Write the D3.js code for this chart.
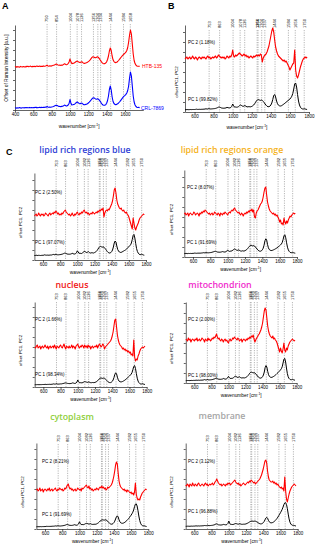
<!DOCTYPE html>
<html>
<head>
<meta charset="utf-8">
<script src="https://cdn.jsdelivr.net/npm/d3@7"></script>
<style>
  body { margin: 0; background: #fff; }
  svg { display: block; font-family: "Liberation Sans", Arial, sans-serif; }
</style>
</head>
<body>
<div id="chart"></div>
<script>
// wavenumber grids (cm-1)
var wnA = d3.range(400, 1761, 10);
var wnPC = d3.range(500, 1781, 10);

var ticksA = [400, 600, 800, 1000, 1200, 1400, 1600];
var ticksPC = [600, 800, 1000, 1200, 1400, 1600, 1800];

var peaksA = [750, 854, 1004, 1078, 1126, 1256, 1304, 1334, 1444, 1584, 1658];
var peaksB = [753, 863, 1004, 1078, 1126, 1256, 1266, 1304, 1337, 1444, 1584, 1656, 1750];
var peaksC = [753, 863, 1004, 1082, 1126, 1256, 1266, 1304, 1337, 1444, 1582, 1655, 1750];

var cellLines = ["HTB-135", "CRL-7869"];
var regions = ["lipid rich regions blue", "lipid rich regions orange", "nucleus", "mitochondrion", "cytoplasm", "membrane"];
var pc1Share = ["99.82%", "97.07%", "91.69%", "98.34%", "98.00%", "91.69%", "96.88%"];
var pc2Share = ["1.18%", "2.50%", "8.07%", "1.66%", "2.00%", "8.21%", "3.12%"];

// panel A mean spectra
var htb135 = [
  0,0.5,-0.3,0.4,0.1,-0.2,0.6,0.2,0,0.5,
  0.3,-0.1,0.6,0.4,0.8,0.2,0.5,0.9,0.3,0.6,
  0.4,0.8,0.3,0.7,1.0,0.5,0.6,0.9,0.4,0.8,
  0.6,1.1,0.7,0.9,1.2,1.9,1.0,0.8,1.2,0.9,
  1.1,1.4,1.8,2.1,2.6,2.9,2.4,2.0,1.7,1.9,
  1.6,2.0,1.8,2.6,3.2,2.7,2.2,2.6,3.4,5.0,
  8.0,5.2,3.4,3.6,3.8,4.2,5.0,5.6,5.9,5.2,
  4.8,4.4,5.0,5.3,4.4,3.8,3.6,4.0,4.2,4.8,
  5.4,6.2,7.2,8.4,9.6,10.2,10.0,9.4,9.3,9.8,
  10.2,9.6,8.4,7.0,5.6,4.4,3.6,3.3,3.4,4.0,
  5.2,7.5,11.0,16.0,19.0,16.5,11.0,7.2,5.4,4.6,
  4.4,4.8,5.5,6.5,7.6,8.8,10.0,11.2,12.2,13.0,
  13.8,14.8,16.5,19.5,25.0,32.0,37.0,33.0,23.0,13.0,
  6.5,3.4,1.8,1.0,0.7,0.8,0.6
];
var crl7869 = [
  0,0.3,-0.2,0.2,0,0.4,0.1,-0.1,0.2,0.3,
  0.1,0.4,0.2,0.5,0.3,0.2,0.6,0.3,0.4,0.2,
  0.5,0.3,0.8,0.4,0.6,0.3,0.5,0.7,0.4,0.6,
  0.5,0.8,0.6,0.9,0.7,1.6,0.8,0.7,0.9,0.8,
  1.0,1.2,1.5,1.9,2.4,2.8,2.5,2.0,1.6,1.5,
  1.4,1.6,1.8,2.3,2.9,2.5,1.9,2.2,3.0,4.5,
  8.5,5.0,3.0,3.2,3.5,3.8,4.6,5.6,6.0,5.2,
  4.6,4.2,4.8,5.0,4.0,3.4,3.2,3.6,3.8,4.2,
  5.0,5.8,6.8,8.0,9.2,10.0,10.3,9.6,9.0,8.8,
  9.2,8.8,7.8,6.6,5.2,3.9,3.0,2.7,2.8,3.4,
  4.8,7.5,12.0,18.5,22.0,18.0,11.0,6.5,4.5,3.6,
  3.4,3.6,4.2,5.0,6.0,7.2,8.4,9.6,10.8,11.8,
  12.6,13.6,15.0,17.5,22.0,30.0,36.0,32.0,22.0,12.0,
  6.0,3.0,1.5,0.8,0.5,0.6,0.4
];

// PC1 loadings: B, then C regions in order
var pc1B = [
  0.3,0.3,0.4,0.4,0.3,0.4,0.5,0.4,0.5,0.5,
  0.5,0.6,0.8,0.6,0.6,0.7,0.6,0.7,0.7,0.8,
  0.8,1.0,1.2,1.0,1.0,1.5,1.2,1.0,1.1,1.2,
  1.3,1.4,1.6,1.9,2.3,2.8,3.0,2.6,2.1,1.9,
  1.8,1.8,1.9,2.1,2.6,2.4,2.1,2.1,2.5,3.6,
  6.0,4.2,2.8,3.0,2.8,2.9,3.3,4.2,5.0,4.6,
  4.0,3.6,4.2,4.4,3.6,3.2,3.1,3.4,3.2,3.2,
  3.6,4.2,5.0,6.2,7.8,9.2,10.2,10.4,10.0,9.6,
  10.0,9.6,8.6,7.4,6.0,4.8,3.8,3.3,3.3,3.8,
  5.0,7.0,10.5,14.5,15.5,13.0,9.0,6.2,4.8,4.2,
  4.0,4.2,4.8,5.5,6.2,7.0,7.8,8.6,9.4,10.2,
  11.0,12.2,13.8,16.5,21.0,26.0,27.0,23.0,15.5,9.0,
  5.0,2.8,1.6,1.1,1.0,1.3,1.0,0.7,0.5
];
var pc1LipidBlue = [
  0.5,0.5,0.8,0.6,0.5,0.7,0.6,0.5,0.6,0.7,
  0.7,0.8,1.2,0.9,0.8,0.9,0.8,0.8,0.9,1.0,
  1.0,1.3,1.6,1.3,1.2,1.8,1.4,1.2,1.2,1.3,
  1.4,1.5,1.8,2.0,2.4,2.8,2.9,2.5,2.0,1.9,
  1.8,1.8,1.9,2.2,2.7,2.4,2.0,2.0,2.3,3.2,
  5.2,4.0,2.6,2.8,2.6,2.5,2.9,3.8,4.8,4.4,
  3.8,3.4,3.9,4.3,3.5,3.0,3.0,3.4,3.1,3.0,
  3.4,3.9,4.5,5.5,6.8,8.2,9.2,9.6,9.2,8.8,
  9.2,8.8,7.8,6.8,5.6,4.4,3.5,3.0,3.0,3.4,
  4.4,6.0,9.0,13.0,15.0,14.0,10.0,6.6,5.0,4.0,
  3.6,3.6,4.0,4.5,5.0,5.5,6.0,6.8,7.6,8.4,
  9.2,10.2,11.2,13.0,16.5,20.5,21.5,18.0,12.5,7.5,
  4.5,2.8,1.8,1.4,1.4,1.8,1.4,1.0,0.8
];
var pc1LipidOrange = [
  0.4,0.5,0.6,0.5,0.4,0.6,0.5,0.6,0.5,0.6,
  0.6,0.7,0.9,0.8,0.7,0.8,0.8,0.9,0.8,0.9,
  1.0,1.1,1.3,1.2,1.1,1.5,1.3,1.2,1.2,1.3,
  1.4,1.5,1.8,2.0,2.3,2.6,2.7,2.4,2.0,1.9,
  1.8,1.8,1.9,2.1,2.4,2.2,2.0,2.0,2.3,2.9,
  3.8,3.2,2.6,2.8,2.9,3.2,3.8,4.5,5.0,4.6,
  4.0,3.6,3.9,4.1,3.4,3.0,2.9,3.2,3.0,3.0,
  3.3,3.8,4.4,5.3,6.5,7.6,8.4,8.8,8.4,8.0,
  8.4,8.0,7.0,6.0,4.9,3.9,3.2,2.8,2.8,3.2,
  4.2,5.8,8.8,13.2,15.2,14.0,9.6,6.2,4.5,3.8,
  3.5,3.5,3.8,4.2,4.6,5.1,5.6,6.2,6.9,7.6,
  8.3,9.1,10.0,11.6,14.6,18.2,19.2,16.2,11.2,6.8,
  4.1,2.6,1.7,1.3,1.3,1.6,1.3,1.0,0.8
];
var pc1Nucleus = [
  0.2,0.3,0.3,0.4,0.3,0.4,0.3,0.4,0.4,0.5,
  0.5,0.5,0.7,0.6,0.5,0.6,0.6,0.7,0.6,0.7,
  0.7,0.9,1.1,0.9,0.9,1.4,1.0,0.9,0.9,1.0,
  1.1,1.1,1.3,1.5,1.7,2.0,2.1,1.9,1.6,1.5,
  1.4,1.4,1.5,1.7,2.1,1.9,1.6,1.6,2.0,2.9,
  5.0,3.4,2.2,2.3,2.2,2.2,2.5,3.0,3.4,3.2,
  2.9,2.6,2.9,3.1,2.6,2.3,2.3,2.5,2.4,2.4,
  2.6,3.0,3.5,4.2,5.2,6.2,6.8,7.0,6.8,6.6,
  6.9,6.7,6.0,5.2,4.2,3.3,2.7,2.4,2.4,2.8,
  3.6,5.0,7.4,10.6,12.2,11.2,7.8,5.2,3.8,3.3,
  3.1,3.2,3.5,4.0,4.5,5.1,5.8,6.6,7.4,8.2,
  9.0,9.9,10.9,12.5,15.5,18.6,19.4,16.4,11.4,6.8,
  3.9,2.3,1.4,1.0,1.0,1.3,1.0,0.7,0.5
];
var pc1Mito = [
  0.4,0.4,0.5,0.5,0.4,0.5,0.5,0.6,0.5,0.6,
  0.6,0.6,0.9,0.7,0.7,0.8,0.7,0.8,0.8,0.9,
  0.9,1.1,1.4,1.1,1.0,1.6,1.2,1.1,1.1,1.2,
  1.3,1.4,1.7,1.9,2.2,2.6,2.7,2.3,1.9,1.8,
  1.7,1.7,1.8,2.0,2.5,2.2,1.9,1.9,2.3,3.0,
  4.6,3.6,2.5,2.7,2.6,2.8,3.4,4.2,4.8,4.4,
  3.9,3.5,3.9,4.2,3.5,3.1,3.0,3.3,3.1,3.1,
  3.4,3.9,4.5,5.4,6.6,7.8,8.6,8.8,8.5,8.1,
  8.4,8.0,7.1,6.1,5.0,4.0,3.3,2.9,2.9,3.3,
  4.3,6.0,9.0,13.4,15.4,14.0,9.6,6.3,4.6,3.9,
  3.6,3.7,4.1,4.6,5.2,5.9,6.6,7.5,8.3,9.2,
  10.1,11.1,12.3,14.2,18.0,21.8,22.6,19.0,13.0,7.6,
  4.3,2.6,1.7,1.3,1.3,1.7,1.3,1.0,0.8
];
var pc1Cyto = [
  0.2,0.3,0.3,0.3,0.3,0.4,0.3,0.4,0.4,0.4,
  0.5,0.5,0.7,0.6,0.6,0.6,0.6,0.7,0.7,0.8,
  0.8,0.9,1.1,1.0,0.9,1.4,1.1,1.0,1.0,1.1,
  1.2,1.3,1.5,1.7,2.0,2.4,2.6,2.2,1.8,1.7,
  1.6,1.6,1.7,1.9,2.3,2.1,1.8,1.8,2.2,3.0,
  5.2,3.6,2.4,2.5,2.4,2.4,2.8,3.3,3.7,3.5,
  3.2,2.9,3.1,3.3,2.8,2.6,2.6,2.8,2.7,2.8,
  3.1,3.6,4.2,5.0,5.9,6.6,7.0,7.2,7.0,6.9,
  7.2,7.0,6.4,5.6,4.6,3.7,3.1,2.8,2.9,3.4,
  4.3,5.8,8.0,10.2,11.2,10.0,7.2,5.2,4.2,3.8,
  3.7,3.9,4.3,4.9,5.6,6.4,7.3,8.3,9.4,10.6,
  11.8,13.2,14.8,17.0,20.4,22.8,23.2,21.0,16.4,11.0,
  6.6,3.8,2.2,1.4,1.1,1.2,1.0,0.7,0.5
];
var pc1Membrane = [
  0.2,0.2,0.3,0.3,0.2,0.3,0.3,0.4,0.3,0.4,
  0.4,0.5,0.7,0.5,0.5,0.6,0.5,0.6,0.6,0.7,
  0.7,0.8,1.0,0.9,0.8,1.3,1.0,0.9,0.9,1.0,
  1.1,1.2,1.4,1.6,2.0,2.5,2.6,2.2,1.7,1.6,
  1.5,1.5,1.6,1.8,2.1,1.9,1.7,1.7,2.1,3.0,
  5.4,3.4,2.1,2.1,2.0,2.0,2.3,2.7,3.0,2.8,
  2.5,2.3,2.6,2.8,2.4,2.2,2.2,2.3,2.3,2.4,
  2.6,3.0,3.4,3.9,4.5,5.0,5.3,5.4,5.3,5.2,
  5.4,5.3,4.9,4.4,3.8,3.2,2.8,2.6,2.7,3.1,
  3.8,4.9,6.6,8.4,9.2,8.3,6.2,4.7,3.9,3.7,
  3.7,4.0,4.5,5.2,6.0,7.0,8.1,9.4,10.8,12.3,
  13.8,15.4,17.2,19.4,22.0,23.6,23.8,22.0,17.8,12.4,
  7.6,4.4,2.5,1.6,1.2,1.2,1.0,0.7,0.5
];

// PC2 loadings: B, then C regions in order
var pc2B = [
  -1,0,1,-1,0,1,-1,0,2,0,
  -1,1,0,-2,0,1,0,-1,1,0,
  1,0,-1,1,2,0,1,-1,0,1,
  0,1,2,0,1,3,2,1,0,1,
  0,1,-1,0,2,1,0,2,1,3,
  8,2,1,3,2,3,4,5,4,3,
  2,3,4,2,3,1,2,0,1,2,
  1,0,2,1,2,3,2,3,2,4,
  3,-4,0,2,3,4,6,9,12,17,
  22,27,30,26,18,11,7,4,2,1,
  0,-1,-2,-3,-2,-4,-3,-5,-7,-9,
  -12,-10,-8,-6,-5,8,-12,-18,-20,-17,
  -13,-9,-6,-3,-1,0,1,0,1
];
var pc2LipidBlue = [
  -1,0,1,-1,0,2,0,-1,1,0,
  1,-1,0,2,1,0,-1,1,2,0,
  1,2,1,3,2,4,3,1,2,0,
  1,0,2,1,3,4,5,3,2,1,
  0,1,-1,0,2,0,-1,1,0,2,
  3,1,0,2,1,3,2,4,5,3,
  2,3,1,2,0,1,2,1,3,2,
  1,2,3,2,4,3,5,4,6,5,
  7,-2,2,4,5,4,6,5,7,9,
  11,14,19,25,27,22,15,11,9,7,
  6,7,5,4,5,3,2,3,1,0,
  -2,-5,-8,-11,-14,-3,-8,-13,-15,-12,
  -10,-8,-5,-3,-2,-1,0,1,0
];
var pc2LipidOrange = [
  0,1,-1,0,1,-2,0,1,0,-1,
  0,2,1,-1,0,1,0,-2,1,0,
  2,1,3,2,4,3,2,1,0,1,
  -1,0,1,-1,0,2,1,0,-1,1,
  0,-2,1,0,-1,1,0,2,1,0,
  -1,1,2,1,3,4,3,5,6,4,
  3,2,1,2,0,-1,1,0,-2,0,
  1,0,2,1,3,2,4,3,5,2,
  4,-3,-4,1,3,4,6,8,10,11,
  13,17,22,26,27,19,12,8,5,3,
  2,1,0,1,-1,0,-2,-1,-3,-5,
  -8,-6,-10,-9,-11,-4,-8,-10,-7,-9,
  -6,-4,-2,-3,-1,0,1,0,1
];
var pc2Nucleus = [
  0,-1,1,2,-1,0,1,-2,0,1,
  -1,0,2,0,-1,1,-2,0,1,-1,
  0,1,-1,2,0,-2,1,0,-1,1,
  2,0,-1,1,3,0,-2,1,0,-1,
  1,-1,0,2,-1,1,0,-2,1,2,
  3,0,-1,1,0,2,1,-1,2,0,
  1,-1,2,0,1,-2,0,1,-1,0,
  1,0,2,-1,1,3,2,0,1,3,
  2,-2,0,1,2,3,4,5,6,8,
  11,15,21,27,28,20,12,7,4,2,
  1,0,-2,-1,-3,-2,-4,-3,-5,-4,
  -6,-5,-8,-7,-9,7,-10,-14,-12,-13,
  -9,-7,-4,-2,-1,0,-1,0,1
];
var pc2Mito = [
  1,0,-1,2,0,1,-2,0,1,0,
  -1,1,0,2,-1,0,1,-1,0,2,
  1,0,-2,1,0,-1,2,0,1,-1,
  0,2,1,3,2,4,6,3,1,2,
  0,-1,1,0,-2,0,1,-1,0,-2,
  -3,0,1,-1,0,2,1,3,2,1,
  0,2,1,-1,0,1,-2,0,1,0,
  -1,1,0,2,1,3,2,4,3,5,
  1,-2,0,2,3,5,6,8,10,13,
  17,23,29,32,30,22,14,9,6,4,
  3,2,4,1,2,0,-1,-3,-6,-9,
  -12,-8,-11,-13,-9,-3,-10,-12,-8,-10,
  -6,-4,-2,-1,0,1,0,-1,0
];
var pc2Cyto = [
  0,1,-1,0,2,-1,0,1,-2,0,
  1,0,-1,1,0,2,-1,0,1,-1,
  0,1,2,0,-1,1,0,2,1,0,
  1,-1,0,2,1,3,5,6,3,1,
  2,0,1,-1,0,1,-1,0,2,1,
  0,1,-1,2,1,2,3,4,5,3,
  2,4,1,2,0,1,-1,0,1,0,
  2,1,0,2,3,2,4,2,3,1,
  2,0,1,3,2,3,4,5,7,10,
  14,19,25,28,26,17,9,5,3,2,
  1,0,1,-1,0,-2,0,-1,-2,-3,
  -2,-4,-3,-5,-2,7,-4,-8,-10,-9,
  -10,-7,-5,-3,-2,-1,0,1,0
];
var pc2Membrane = [
  0,-1,1,0,-2,1,0,-1,2,0,
  -1,1,0,-1,1,2,0,-1,0,1,
  0,-1,1,2,0,1,-1,0,1,0,
  1,2,0,1,3,4,6,4,2,1,
  0,1,-1,0,1,0,-1,1,0,2,
  1,2,0,1,2,3,4,5,3,2,
  1,2,0,1,-1,0,1,2,1,0,
  1,2,3,2,4,3,5,4,3,2,
  3,1,2,3,4,5,6,8,10,13,
  16,20,24,25,22,14,8,5,4,3,
  3,4,2,3,1,2,0,1,-1,-2,
  -3,-2,-4,-3,-6,8,-6,-14,-17,-13,
  -9,-6,-4,-2,-1,0,1,0,-1
];

var pc1C = [pc1LipidBlue, pc1LipidOrange, pc1Nucleus, pc1Mito, pc1Cyto, pc1Membrane];
var pc2C = [pc2LipidBlue, pc2LipidOrange, pc2Nucleus, pc2Mito, pc2Cyto, pc2Membrane];

var regionColors = ["#2f3fd6", "#f5b21c", "#f01616", "#f02ccc", "#8fcf3c", "#a6a6a6"];

var svg = d3.select("#chart").append("svg")
    .attr("width", 316)
    .attr("height", 550);

svg.append("rect").attr("width", 316).attr("height", 550).attr("fill", "#fff");

function axisTitle(g, x, y, size) {
  var t = g.append("text")
    .attr("x", x).attr("y", y)
    .attr("text-anchor", "middle")
    .attr("font-size", size + "px")
    .attr("fill", "#000")
    .text("wavenumber [cm");
  t.append("tspan").attr("dy", -size * 0.35).attr("font-size", (size * 0.7) + "px").text("-1");
  t.append("tspan").attr("dy", size * 0.35).text("]");
}

// generic spectrum panel; p holds layout, series holds the data
function drawPanel(p, series) {
  var x = d3.scaleLinear().domain(p.xDomain).range([p.x0, p.x1]);
  var y = d3.scaleLinear().domain([0, p.yB - p.yT]).range([p.yB, p.yT]);
  var g = svg.append("g");

  // dashed lines at band positions
  g.selectAll("line.band")
    .data(p.peaks)
    .enter()
    .append("line")
      .attr("class", "band")
      .attr("x1", function(d) { return x(d); })
      .attr("x2", function(d) { return x(d); })
      .attr("y1", p.dashTop)
      .attr("y2", p.yB)
      .attr("stroke", "#7a7a7a")
      .attr("stroke-width", 0.55)
      .attr("stroke-dasharray", "1.2,1.2");

  g.selectAll("text.band")
    .data(p.peaks)
    .enter()
    .append("text")
      .attr("class", "band")
      .attr("transform", function(d) {
        return "translate(" + (x(d) + 1.4) + "," + p.labBottom + ") rotate(-90)";
      })
      .attr("font-size", "4px")
      .attr("fill", "#000")
      .text(function(d) { return d; });

  // axes
  var gx = g.append("g")
    .attr("transform", "translate(0," + p.yB + ")")
    .call(d3.axisBottom(x).tickValues(p.ticks).tickFormat(d3.format("d"))
      .tickSize(2).tickPadding(1.2).tickSizeOuter(0));
  gx.selectAll("text").attr("font-size", p.tickFont + "px").attr("fill", "#000");

  g.append("g")
    .attr("transform", "translate(" + p.x0 + ",0)")
    .call(d3.axisLeft(y).ticks(7).tickFormat("").tickSize(2).tickSizeOuter(0));

  g.selectAll(".domain, .tick line").attr("stroke", "#222").attr("stroke-width", 0.7);

  axisTitle(g, (p.x0 + p.x1) / 2, p.xTitleY, p.tickFont + 0.3);

  g.append("text")
    .attr("transform", "translate(" + p.yTitleX + "," + p.yTitleY + ") rotate(-90)")
    .attr("text-anchor", "middle")
    .attr("font-size", p.yTitleFont + "px")
    .attr("fill", "#000")
    .text(p.yTitle);

  series.forEach(function(s) {
    var line = d3.line()
      .x(function(d, i) { return x(s.wn[i]); })
      .y(function(d) { return y(d + s.offset); });
    g.append("path")
      .datum(s.values)
      .attr("fill", "none")
      .attr("stroke", s.color)
      .attr("stroke-width", s.width)
      .attr("stroke-linejoin", "round")
      .attr("d", line);
    g.append("text")
      .attr("x", s.labX)
      .attr("y", s.labY)
      .attr("font-size", s.labFont + "px")
      .attr("fill", s.labColor)
      .text(s.label);
  });
}

// panel letters
[["A", 2, 9], ["B", 168, 9], ["C", 6, 155]].forEach(function(l) {
  svg.append("text")
    .attr("x", l[1]).attr("y", l[2])
    .attr("font-size", "9px")
    .attr("font-weight", "bold")
    .text(l[0]);
});

// A
drawPanel({
  xDomain: [400, 1800], x0: 15, x1: 143.3, yB: 110, yT: 25,
  peaks: peaksA, ticks: ticksA, dashTop: 24, labBottom: 22,
  tickFont: 4.5, xTitleY: 128, yTitle: "Offset of Raman Intensity [a.u.]",
  yTitleX: 8, yTitleY: 68, yTitleFont: 4.9
}, [
  { wn: wnA, values: htb135, offset: 43, color: "#ff0000", width: 1.1,
    label: cellLines[0], labX: 142, labY: 68, labFont: 5, labColor: "#ff0000" },
  { wn: wnA, values: crl7869, offset: 2, color: "#0000ff", width: 1.1,
    label: cellLines[1], labX: 141, labY: 110, labFont: 5, labColor: "#0000ff" }
]);

// B
drawPanel({
  xDomain: [500, 1800], x0: 185, x1: 309, yB: 112, yT: 25,
  peaks: peaksB, ticks: ticksPC, dashTop: 30, labBottom: 28,
  tickFont: 4.5, xTitleY: 129, yTitle: "offset PC1, PC2",
  yTitleX: 178, yTitleY: 82, yTitleFont: 4.4
}, [
  { wn: wnPC, values: pc2B, offset: 54, color: "#ff0000", width: 1.1,
    label: "PC 2 (" + pc2Share[0] + ")", labX: 188, labY: 44, labFont: 4.5, labColor: "#000" },
  { wn: wnPC, values: pc1B, offset: 2, color: "#000", width: 1.0,
    label: "PC 1 (" + pc1Share[0] + ")", labX: 188, labY: 101, labFont: 4.5, labColor: "#000" }
]);

// C sub-panels layout
var cLayout = [
  { x0: 34.4, x1: 146, yB: 260, yT: 173, top: 167, tx: 85, ty: 153, b: 4, r: 45, pc2y: 194, pc1y: 244, lx: 35, ytx: 22 },
  { x0: 184.3, x1: 297, yB: 257, yT: 170, top: 167, tx: 232, ty: 153, b: 3, r: 43, pc2y: 189, pc1y: 244, lx: 187, ytx: 173 },
  { x0: 34.7, x1: 146.7, yB: 387, yT: 302, top: 300, tx: 72, ty: 288, b: 2, r: 40, pc2y: 321, pc1y: 376, lx: 35, ytx: 22 },
  { x0: 185.8, x1: 296.7, yB: 383, yT: 302, top: 300, tx: 220, ty: 288, b: 2, r: 43, pc2y: 321, pc1y: 377, lx: 188, ytx: 173 },
  { x0: 36.4, x1: 148.3, yB: 529, yT: 443, top: 442, tx: 72, ty: 420, b: 2, r: 39, pc2y: 463, pc1y: 516, lx: 42, ytx: 24 },
  { x0: 185.7, x1: 297.7, yB: 529, yT: 443, top: 442, tx: 222, ty: 419, b: 2.5, r: 44, pc2y: 463, pc1y: 513, lx: 188, ytx: 173 }
];

cLayout.forEach(function(c, i) {
  svg.append("text")
    .attr("x", c.tx).attr("y", c.ty)
    .attr("text-anchor", "middle")
    .attr("font-family", "'Open Sans', sans-serif")
    .attr("font-weight", 600)
    .attr("font-size", "8.8px")
    .attr("fill", regionColors[i])
    .text(regions[i]);

  drawPanel({
    xDomain: [500, 1800], x0: c.x0, x1: c.x1, yB: c.yB, yT: c.yT,
    peaks: peaksC, ticks: ticksPC, dashTop: c.top + 2, labBottom: c.top,
    tickFont: 4.5, xTitleY: c.yB + 14, yTitle: "offset PC1, PC2",
    yTitleX: c.ytx, yTitleY: (c.yB + c.yT) / 2 + 6, yTitleFont: 4.4
  }, [
    { wn: wnPC, values: pc2C[i], offset: c.r, color: "#ff0000", width: 1.1,
      label: "PC 2 (" + pc2Share[i + 1] + ")", labX: c.lx, labY: c.pc2y, labFont: 4.5, labColor: "#000" },
    { wn: wnPC, values: pc1C[i], offset: c.b, color: "#000", width: 1.0,
      label: "PC 1 (" + pc1Share[i + 1] + ")", labX: c.lx, labY: c.pc1y, labFont: 4.5, labColor: "#000" }
  ]);
});
</script>
</body>
</html>
